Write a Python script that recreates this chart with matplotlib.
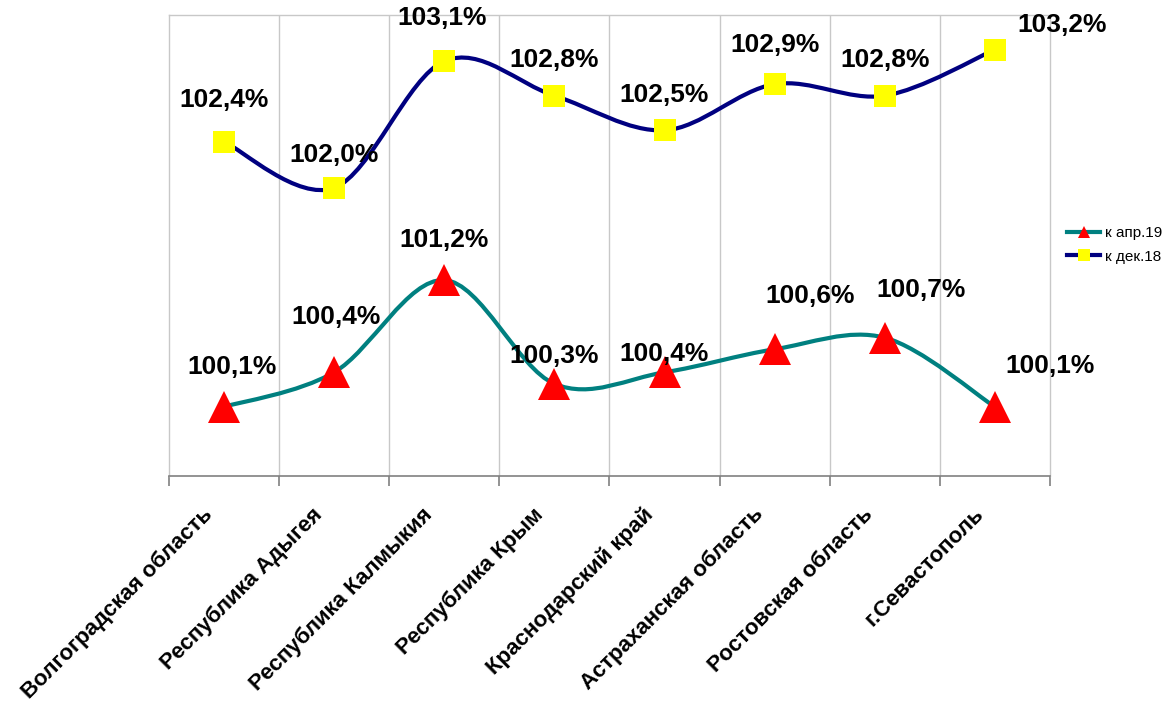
import matplotlib
matplotlib.use("Agg")
import matplotlib.pyplot as plt
import matplotlib.transforms as mtransforms
from matplotlib.path import Path
from matplotlib.patches import PathPatch
from matplotlib.lines import Line2D
import numpy as np

plt.rcParams["font.family"] = ["Liberation Sans", "DejaVu Sans"]

regions = [
    "Волгоградская область",
    "Республика Адыгея",
    "Республика Калмыкия",
    "Республика Крым",
    "Краснодарский край",
    "Астраханская область",
    "Ростовская область",
    "г.Севастополь",
]
apr19 = [100.1, 100.4, 101.2, 100.3, 100.4, 100.6, 100.7, 100.1]
dec18 = [102.4, 102.0, 103.1, 102.8, 102.5, 102.9, 102.8, 103.2]

# label offsets in pixels (dx, dy) relative to each marker
apr_offsets = [(8, 40), (2, 55), (0, 40), (0, 28), (0, 18), (35, 53), (36, 48), (55, 41)]
dec_offsets = [(0, 42), (0, 33), (-2, 43), (0, 36), (0, 35), (0, 39), (0, 36), (67, 25)]


def smooth_path(xs, ys, k=1 / 6):
    """Excel-like smoothed line: Catmull-Rom converted to cubic Bezier."""
    pts = np.column_stack([xs, ys]).astype(float)
    ext = np.vstack([pts[0], pts, pts[-1]])
    verts = [pts[0]]
    codes = [Path.MOVETO]
    for i in range(len(pts) - 1):
        p0, p1, p2, p3 = ext[i], ext[i + 1], ext[i + 2], ext[i + 3]
        c1 = p1 + (p2 - p0) * k
        c2 = p2 - (p3 - p1) * k
        verts += [c1, c2, p2]
        codes += [Path.CURVE4] * 3
    return Path(verts, codes)


fig = plt.figure(figsize=(11.7, 7.02), dpi=100)
ax = fig.add_axes([0.1444, 0.3219, 0.7530, 0.6567])

x = np.arange(len(regions))

series = [
    (apr19, "#008080", "^", 23, "к апр.19", apr_offsets),
    (dec18, "#000080", "s", 16, "к дек.18", dec_offsets),
]
handles = []
for vals, color, marker, ms, label, offs in series:
    ax.add_patch(PathPatch(smooth_path(x, vals), fill=False, edgecolor=color,
                           linewidth=3, zorder=3, capstyle="round"))
    ax.plot(x, vals, linestyle="none", marker=marker, markersize=ms,
            color="#FF0000" if marker == "^" else "#FFFF00", markeredgewidth=0,
            zorder=4)
    for xi, v, (dx, dy) in zip(x, vals, offs):
        ax.annotate(f"{v:.1f}%".replace(".", ","), (xi, v), xytext=(dx, dy),
                    textcoords="offset pixels", ha="center", va="center",
                    fontsize=19, fontweight="bold", color="black", zorder=5)
    handles.append(Line2D([], [], color=color, linewidth=3, marker=marker,
                          markersize=9 if marker == "^" else 8,
                          markerfacecolor="#FF0000" if marker == "^" else "#FFFF00",
                          markeredgewidth=0, label=label))

ax.set_xlim(-0.5, len(regions) - 0.5)
ax.set_ylim(99.5, 103.5)

# vertical gridlines at category boundaries
bounds = np.arange(len(regions) + 1) - 0.5
for b in bounds[1:-1]:
    ax.axvline(b, color="#c8c8c8", linewidth=1, zorder=1)

for side in ["left", "top", "right"]:
    ax.spines[side].set_color("#c8c8c8")
    ax.spines[side].set_linewidth(1)
ax.spines["bottom"].set_color("#808080")
ax.spines["bottom"].set_linewidth(1.2)

ax.set_yticks([])
ax.set_xticks(bounds, minor=False)
ax.set_xticklabels([])
ax.tick_params(axis="x", which="major", length=7, width=1.2, color="#808080")
ax.set_xticks(x, minor=True)
ax.set_xticklabels(regions, minor=True, rotation=45, ha="right",
                   rotation_mode="anchor", fontsize=16, fontweight="bold")
ax.tick_params(axis="x", which="minor", length=0, pad=20)
shift = mtransforms.ScaledTranslation(-22 / 100, 0, fig.dpi_scale_trans)
for lbl in ax.get_xticklabels(minor=True):
    lbl.set_transform(lbl.get_transform() + shift)

fig.legend(handles=handles, loc="center left", bbox_to_anchor=(0.900, 0.651),
           frameon=False, fontsize=11, handlelength=2.2, handletextpad=0.3,
           labelspacing=0.6)

fig.savefig("out.png", dpi=100, facecolor="white")
